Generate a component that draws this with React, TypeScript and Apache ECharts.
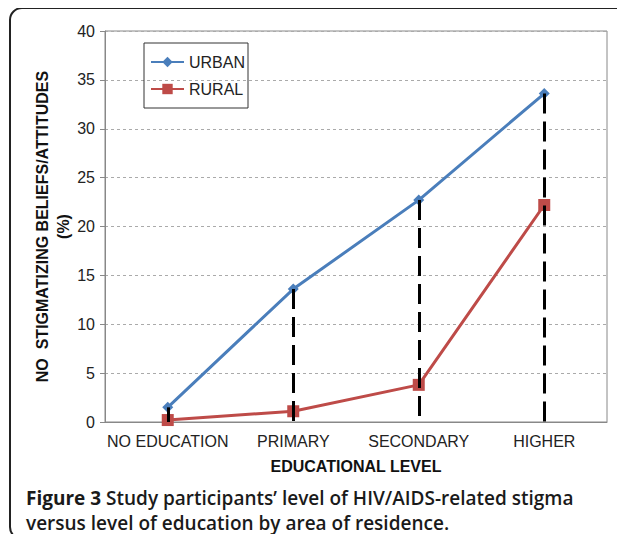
import React, { useEffect, useRef } from "react";
import * as echarts from "echarts";

const categories = ["NO EDUCATION", "PRIMARY", "SECONDARY", "HIGHER"];
const urban = [1.5, 13.6, 22.7, 33.6];
const rural = [0.2, 1.1, 3.8, 22.2];
const yTicks = { min: 0, max: 40, interval: 5 };

export default function App() {
  const ref = useRef<HTMLDivElement>(null);
  useEffect(() => {
    const chart = echarts.init(ref.current!, null, { renderer: "svg" });
    const font = "Arial, 'Liberation Sans', sans-serif";
    const dropLines = urban.map((v, i) => [
      { coord: [i, v] },
      { coord: [i, 0] },
    ]);
    chart.setOption({
      animation: false,
      backgroundColor: "#ffffff",
      textStyle: { fontFamily: font },
      grid: {
        left: 105,
        right: 18,
        top: 31,
        bottom: 120,
        show: true,
        borderColor: "#888",
        borderWidth: 1,
      },
      legend: {
        left: 144,
        top: 43,
        orient: "vertical",
        borderColor: "#333",
        borderWidth: 1,
        padding: [10, 3, 10, 6],
        itemGap: 9,
        itemWidth: 33,
        itemHeight: 13,
        textStyle: { fontSize: 16, color: "#222", fontFamily: font, lineHeight: 18 },
        data: ["URBAN", "RURAL"],
      },
      xAxis: {
        type: "category",
        data: categories,
        boundaryGap: true,
        axisLine: { lineStyle: { color: "#888", width: 1 } },
        axisTick: { show: false },
        axisLabel: { interval: 0, fontSize: 16, color: "#222", margin: 11, fontFamily: font },
        name: "EDUCATIONAL LEVEL",
        nameLocation: "middle",
        nameGap: 36,
        nameMoveOverlap: false,
        nameTextStyle: { fontSize: 16, fontWeight: "bold", color: "#111", fontFamily: font },
      },
      yAxis: {
        type: "value",
        min: yTicks.min,
        max: yTicks.max,
        interval: yTicks.interval,
        axisLine: { show: true, lineStyle: { color: "#888", width: 1 } },
        axisTick: { show: true, length: 5, lineStyle: { color: "#888" } },
        axisLabel: { fontSize: 16, color: "#222", margin: 10, fontFamily: font },
        splitLine: { lineStyle: { color: "#aaa", type: [3, 3], width: 1 } },
        name: "NO  STIGMATIZING BELIEFS/ATTITUDES\n(%)",
        nameLocation: "middle",
        nameRotate: 90,
        nameGap: 31,
        nameMoveOverlap: false,
        nameTextStyle: {
          fontSize: 16,
          fontWeight: "bold",
          color: "#111",
          lineHeight: 21,
          align: "center",
          fontFamily: font,
        },
      },
      series: [
        {
          name: "URBAN",
          type: "line",
          data: urban,
          color: "#4A7EBB",
          symbol: "diamond",
          symbolSize: 11,
          lineStyle: { width: 3, color: "#4A7EBB" },
          itemStyle: { color: "#4A7EBB" },
          z: 3,
        },
        {
          name: "RURAL",
          type: "line",
          data: rural,
          color: "#BE4B48",
          symbol: "rect",
          symbolSize: 12,
          lineStyle: { width: 3, color: "#BE4B48" },
          itemStyle: { color: "#BE4B48" },
          z: 2,
          markLine: {
            silent: true,
            symbol: "none",
            z: 10,
            label: { show: false },
            lineStyle: { color: "#000", width: 3, type: [20, 8] },
            data: dropLines,
          },
        },
      ],
      graphic: [
        {
          type: "rect",
          shape: { x: 10, y: 8, width: 640, height: 531, r: 12 },
          style: { fill: "none", stroke: "#222", lineWidth: 2 },
          silent: true,
        },
        {
          type: "text",
          left: 26,
          top: 485,
          style: {
            text: "{b|Figure 3} Study participants\u2019 level of HIV/AIDS-related stigma\nversus level of education by area of residence.",
            fontFamily: "'Open Sans', sans-serif",
            fontSize: 19,
            fontWeight: 600,
            fill: "#1a1a1a",
            lineHeight: 25,
            rich: {
              b: {
                fontFamily: "'Open Sans', sans-serif",
                fontSize: 19,
                fontWeight: "bold",
                fill: "#1a1a1a",
                lineHeight: 25,
              },
            },
          },
        },
      ],
    });
    return () => chart.dispose();
  }, []);
  return <div ref={ref} style={{ width: 625, height: 542, margin: -8 }} />;
}
